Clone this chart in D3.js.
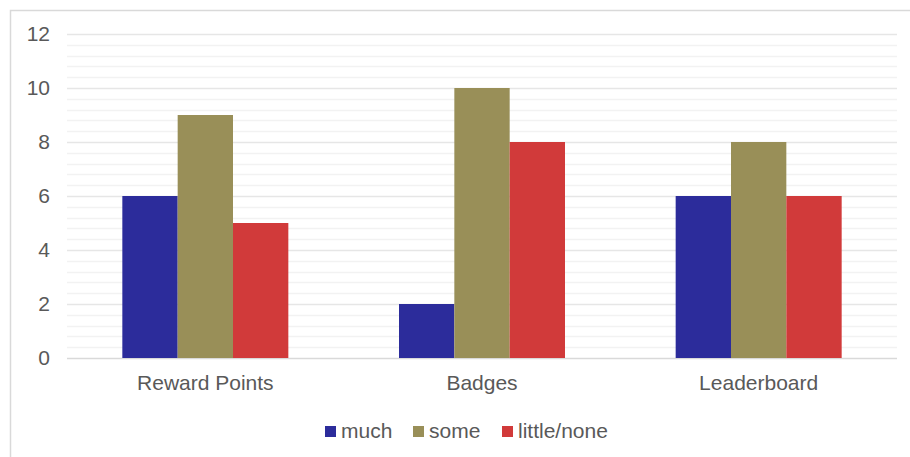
<!DOCTYPE html>
<html>
<head>
<meta charset="utf-8">
<script src="https://cdn.jsdelivr.net/npm/d3@7"></script>
<style>
  html, body { margin: 0; padding: 0; background: #fff; }
  svg { display: block; }
  text { font-family: "Liberation Sans", Arial, sans-serif; fill: #595959; }
</style>
</head>
<body>
<svg id="chart" width="910" height="457"></svg>
<script>
// Chart data
const categories = ["Reward Points", "Badges", "Leaderboard"];
const seriesNames = ["much", "some", "little/none"];
const much = [6, 2, 6];
const some = [9, 10, 8];
const littleNone = [5, 8, 6];
const yTicks = [0, 2, 4, 6, 8, 10, 12];
const colors = ["#2c2c9b", "#998f58", "#d13a3a"];

const seriesValues = [much, some, littleNone];

const svg = d3.select("#chart");
const W = 910, H = 457;
const plot = { left: 67, right: 897, top: 34, bottom: 358 };

// Outer frame
svg.append("rect")
  .attr("x", 10.5).attr("y", 10.5)
  .attr("width", W + 10).attr("height", H + 10)
  .attr("fill", "none")
  .attr("stroke", "#d9d9d9")
  .attr("stroke-width", 1.5);

const y = d3.scaleLinear().domain([0, 12]).range([plot.bottom, plot.top]);
const x0 = d3.scaleBand().domain(categories).range([plot.left, plot.right])
  .paddingInner(0.4).paddingOuter(0.2);
const x1 = d3.scaleBand().domain(seriesNames).range([0, x0.bandwidth()]);

// Minor gridlines
const minor = d3.range(0, 12.001, 0.4).filter(v => Math.abs(v / 2 - Math.round(v / 2)) > 1e-6);
svg.append("g").selectAll("line").data(minor).join("line")
  .attr("x1", plot.left).attr("x2", plot.right)
  .attr("y1", d => Math.round(y(d)) + 0.5).attr("y2", d => Math.round(y(d)) + 0.5)
  .attr("stroke", "#f2f2f2").attr("stroke-width", 1.5);

// Major gridlines
svg.append("g").selectAll("line").data(yTicks).join("line")
  .attr("x1", plot.left).attr("x2", plot.right)
  .attr("y1", d => Math.round(y(d)) + 0.5).attr("y2", d => Math.round(y(d)) + 0.5)
  .attr("stroke", d => d === 0 ? "#d9d9d9" : "#e6e6e6").attr("stroke-width", 1.5);

// Y axis labels
const yAxis = d3.axisLeft(y).tickValues(yTicks).tickSize(0).tickPadding(0);
const gy = svg.append("g").attr("transform", "translate(50,0)").call(yAxis);
gy.select(".domain").remove();
gy.selectAll("text").attr("font-size", 21).attr("fill", "#595959")
  .style("font-family", "'Liberation Sans', Arial, sans-serif");

// Bars
const groups = svg.append("g").selectAll("g").data(categories).join("g")
  .attr("transform", d => `translate(${x0(d)},0)`);
groups.selectAll("rect")
  .data((c, i) => seriesNames.map((s, j) => ({ s, v: seriesValues[j][i], j })))
  .join("rect")
  .attr("x", d => x1(d.s))
  .attr("width", x1.bandwidth())
  .attr("y", d => y(d.v))
  .attr("height", d => y(0) - y(d.v))
  .attr("fill", d => colors[d.j]);

// X axis labels
const xAxis = d3.axisBottom(x0).tickSize(0).tickPadding(0);
const gx = svg.append("g").attr("transform", `translate(0,${plot.bottom + 17})`).call(xAxis);
gx.select(".domain").remove();
gx.selectAll("text").attr("font-size", 21).attr("fill", "#595959")
  .style("font-family", "'Liberation Sans', Arial, sans-serif");

// Legend
const legendX = [325, 413, 502];
const legend = svg.append("g").selectAll("g").data(seriesNames).join("g")
  .attr("transform", (d, i) => `translate(${legendX[i]},426)`);
legend.append("rect").attr("width", 11).attr("height", 11)
  .attr("fill", (d, i) => colors[i]);
legend.append("text").attr("x", 16).attr("y", 12)
  .attr("font-size", 21).text(d => d);
</script>
</body>
</html>
